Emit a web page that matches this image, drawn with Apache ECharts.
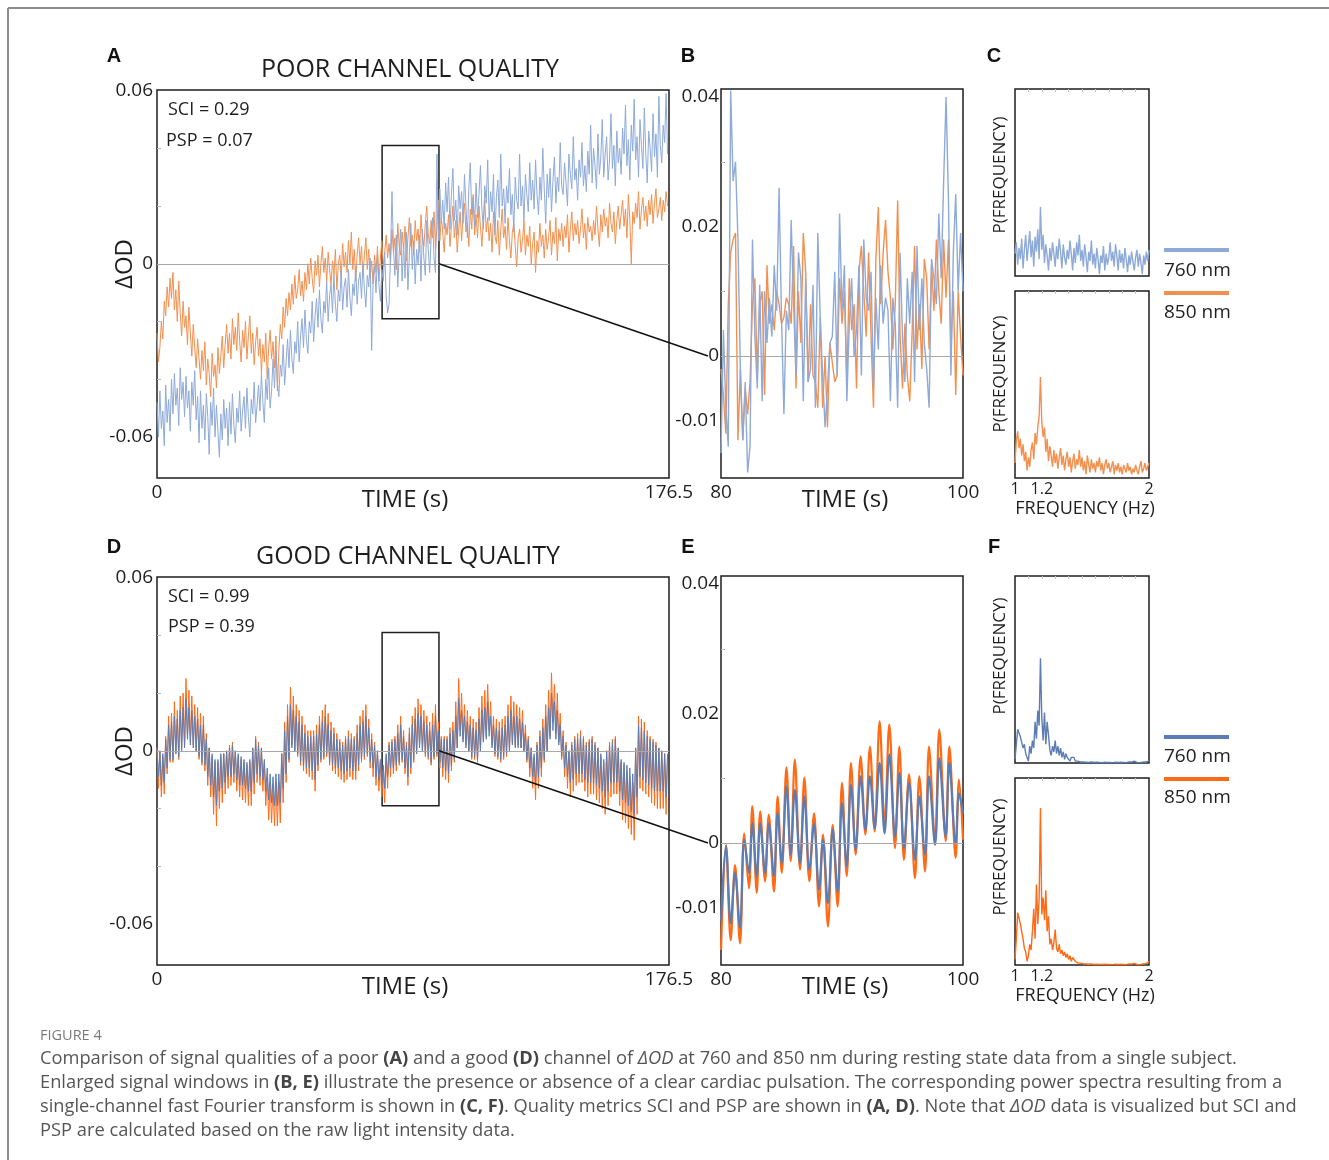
<!DOCTYPE html>
<html>
<head>
<meta charset="UTF-8">
<title>Figure 4 - channel quality</title>
<script src="https://cdn.jsdelivr.net/npm/echarts/dist/echarts.min.js"></script>
<style>
    html, body, #main {
        height: 100%;
        width: 100%;
        margin: 0;
        padding: 0;
        background: #fff;
    }
</style>
</head>
<body>
<div id="main"></div>
<script>
// ---------- data (delta OD in units of 0.001) ----------
// panel A, poor channel, one sample per 0.5 s, 0..176 s (10 values = 5 s per row)
var poor760 = [
    -48, -60, -44, -57, -51, -63, -42, -55, -47, -58,
    -40, -52, -38, -49, -43, -56, -36, -47, -41, -53,
    -39, -50, -44, -58, -41, -49, -37, -54, -46, -62,
    -44, -57, -49, -61, -45, -53, -66, -48, -56, -43,
    -60, -49, -58, -67, -52, -61, -47, -57, -50, -63,
    -48, -59, -45, -56, -62, -50, -55, -44, -58, -51,
    -46, -57, -43, -53, -60, -47, -52, -41, -55, -49,
    -42, -51, -38, -48, -55, -40, -47, -36, -50, -44,
    -33, -43, -30, -41, -46, -35, -39, -28, -42, -34,
    -26, -36, -23, -33, -38, -27, -31, -20, -34, -25,
    -19, -29, -16, -26, -31, -20, -24, -13, -27, -18,
    -12, -22, -9, -19, -24, -13, -17, -6, -20, -11,
    -7, -17, -4, -14, -20, -9, -13, -2, -16, -8,
    -5, -15, -2, -12, -18, -7, -11, -1, -14, -6,
    -3, -12, 0, -9, -15, -4, -8, 2, -30, -5,
    -1, -10, 3, -7, -13, -2, -6, 4, -11, -17,
    -14, 3, 25, 6, -4, 10, -8, 4, 12, -6,
    7, -5, 11, -9, 3, 14, -2, 8, -7, 5,
    0, 10, -6, 12, 2, -4, 15, 5, -3, 9,
    16, 2, -3, 38, 8, 26, 14, 22, 12, 28,
    18, 30, 12, 24, 33, 15, 22, 10, 27, 19,
    25, 14, 31, 20, 9, 26, 35, 17, 23, 13,
    28, 16, 24, 34, 19, 12, 27, 21, 36, 15,
    25, 18, 31, 10, 23, 29, 16, 38, 20, 26,
    14, 27, 21, 33, 17, 24, 11, 30, 22, 19,
    38, 20, 27, 15, 31, 24, 18, 35, 22, 29,
    19, 36, 24, 17, 30, 22, 40, 26, 14, 31,
    23, 33, 18, 29, 37, 21, 30, 25, 42, 27,
    24, 35, 28, 20, 38, 31, 26, 44, 29, 33,
    22, 36, 30, 42, 27, 34, 25, 39, 31, 48,
    28, 40, 34, 26, 45, 31, 37, 50, 30, 38,
    44, 29, 36, 52, 33, 41, 27, 46, 35, 40,
    31, 47, 38, 55, 34, 43, 29, 48, 39, 57,
    36, 44, 30, 50, 41, 33, 54, 38, 28, 46,
    40, 32, 52, 37, 45, 30, 58, 41, 35, 48,
    42, 59, 38
];
var poor850 = [
    -24, -34, -29, -20, -26, -13, -18, -8, -15, -5,
    -12, -3, -16, -9, -20, -6, -17, -25, -13, -22,
    -18, -28, -15, -24, -32, -21, -29, -36, -26, -33,
    -40, -30, -37, -27, -42, -33, -38, -46, -31, -39,
    -35, -43, -29, -38, -32, -25, -36, -28, -21, -31,
    -24, -33, -19, -28, -22, -30, -17, -27, -34, -23,
    -29, -20, -33, -25, -18, -31, -24, -35, -27, -22,
    -32, -26, -38, -28, -34, -24, -40, -29, -23, -33,
    -27, -36, -25, -44, -30, -21, -26, -15, -22, -12,
    -18, -10, -16, -7, -14, -4, -12, -9, -2, -11,
    -6, -13, -3, -9, 0, -7, 2, -5, -10, 1,
    -4, 3, -8, 0, 6, -3, 2, -6, 4, -2,
    -7, 1, -4, 5, -9, 0, 3, -5, 7, -1,
    4, -3, 8, 0, 11, -2, 5, -6, 3, 9,
    0, 6, -4, 3, 9, -2, 5, -5, 1, -7,
    3, -3, 6, -6, 2, 8, -1, 4, 10, 2,
    7, 0, 12, 4, 9, -2, 14, 6, 3, 11,
    5, 13, 1, 9, 16, 6, 10, 3, 15, 8,
    12, 4, 17, 9, 6, 14, 20, 10, 7, 15,
    9, 18, 5, 13, 22, 8, 16, 11, 4, 14,
    10, 17, 6, 13, 20, 9, 15, 4, 12, 18,
    8, 16, 21, 11, 14, 6, 19, 12, 24, 10,
    17, 9, 20, 13, 6, 15, 22, 11, 16, 8,
    14, 4, 18, 10, 7, 15, 3, 12, 19, 9,
    13, 5, 16, 8, 2, 11, 14, 6, -1, 9,
    12, 4, 8, 15, 3, 10, 6, 13, 0, 7,
    11, -3, 8, 4, 14, 6, 10, 2, 12, 5,
    9, 15, 3, 11, 7, 16, 1, 12, 8, 14,
    6, 13, 9, 17, 4, 12, 18, 8, 14, 10,
    15, 7, 12, 19, 9, 14, 5, 16, 11, 13,
    8, 15, 10, 20, 12, 6, 17, 11, 19, 13,
    16, 9, 21, 14, 11, 18, 7, 15, 20, 12,
    17, 22, 13, 19, 9, 24, 15, 0, 18, 14,
    21, 16, 25, 12, 19, 23, 15, 20, 13, 22,
    17, 24, 14, 21, 26, 16, 19, 23, 15, 22,
    18, 25, 20
];

// panel B, poor channel window 80..100 s, one sample per 0.2 s
var zoomPoor760 = [
    -15, 4, -8, -14, 41, 27, 30, 18, -2, -13,
    -4, -18, -14, 18, 3, -5, 11, -7, 10, 2,
    9, 3, 14, 7, 26, 6, -9, 7, 4, 21,
    8, -3, 16, 12, -7, 12, -4, -2, 11, -8,
    19, 6, -3, -11, -5, 2, 3, 13, -3, 22,
    7, 14, -7, 5, 12, 0, 4, 14, -3, 18,
    9, 7, 13, -5, 9, 1, 14, 5, 9, 7,
    -7, 9, 5, -8, 16, 3, -4, 12, 5, 13,
    -4, 17, 4, 12, 2, -2, -8, 15, 12, 8,
    22, 12, 27, 40, 24, -3, 16, 25, 10, 19, 10
];
var zoomPoor850 = [
    -2, -6, -12, 8, 16, 18, 19, -13, -2, -13,
    -5, -9, -4, 8, 12, -3, 8, 10, -6, 14,
    5, 8, 4, 10, 8, 5, 6, 9, 8, 5,
    17, -5, 10, 2, 19, 13, -4, 8, -3, -4,
    -8, 6, -8, 0, -11, 2, -1, -4, -3, 12,
    5, 10, -4, 12, 4, 8, -5, 13, 17, 10,
    3, 16, 3, -8, 15, 23, 8, 16, 21, 13,
    9, 1, 8, 24, 3, -5, 5, -3, -7, 4,
    17, 1, 8, -2, 15, 12, 1, 14, 7, 18,
    10, 5, 18, 9, 18, 1, 10, -6, 10, 3, -3
];

// panel C, power spectra of the poor channel, 1..2 Hz in 0.01 Hz steps (arbitrary units)
var specPoor760 = [
    12, 18, 6, 15, 9, 20, 4, 14, 22, 8,
    16, 24, 10, 19, 5, 21, 13, 25, 9, 37,
    14, 22, 7, 17, 11, 3, 15, 8, 18, 12,
    5, 16, 9, 20, 13, 4, 17, 10, 6, 14,
    9, 19, 12, 3, 15, 7, 18, 11, 22, 8,
    14, 5, 17, 10, 2, 13, 8, 19, 6, 12,
    4, 15, 9, 1, 11, 7, 16, 3, 12, 6,
    10, 18, 8, 13, 5, 17, 11, 3, 14, 7,
    12, 4, 15, 9, 2, 11, 6, 13, 8, 3,
    10, 14, 5, 12, 7, 1, 11, 6, 13, 8,
    14
];
var specPoor850 = [
    8, 20, 25, 16, 21, 12, 18, 9, 14, 4,
    11, 6, 15, 19, 10, 24, 18, 27, 33, 54,
    30, 22, 27, 14, 21, 9, 17, 12, 6, 15,
    8, 13, 5, 11, 16, 7, 12, 4, 10, 14,
    6, 11, 3, 9, 13, 5, 10, 7, 15, 6,
    11, 4, 9, 2, 12, 7, 3, 10, 5, 8,
    3, 9, 6, 11, 4, 8, 2, 7, 10, 5,
    8, 3, 6, 9, 2, 7, 4, 8, 3, 6,
    2, 7, 5, 3, 8, 4, 6, 2, 5, 3,
    7, 4, 2, 6, 9, 3, 5, 8, 4, 6,
    8
];

// panel D, good channel, one sample per 0.5 s, 0..176 s
var good760 = [
    1, -9, 0, -12, -1, -11, 4, -6, 9, -3,
    10, -3, 12, -1, 11, -2, 14, 0, 15, 1,
    18, 4, 15, 2, 14, 1, 12, 0, 11, -2,
    9, -4, 9, -5, 4, -9, 1, -12, -1, -16,
    -3, -19, -3, -14, -1, -13, -1, -11, 0, -9,
    1, -9, 2, -8, 0, -10, -1, -12, -2, -12,
    -3, -13, -4, -14, -3, -14, 1, -11, 4, -8,
    2, -9, 1, -10, -3, -14, -6, -17, -8, -18,
    -9, -19, -8, -19, -8, -18, -1, -13, 7, -8,
    12, -3, 16, 1, 14, 0, 12, -1, 10, -4,
    9, -5, 6, -6, 5, -6, 5, -7, 5, -10,
    6, -5, 9, -3, 10, -2, 12, -1, 9, -4,
    7, -5, 6, -6, 4, -6, 3, -7, 2, -8,
    4, -7, 5, -6, 4, -7, 4, -7, 6, -5,
    9, -3, 10, -2, 12, -1, 8, -4, 4, -6,
    2, -9, 0, -10, -3, -12, -5, -13, -1, -9,
    2, -6, 3, -6, 4, -5, 6, -4, 9, -3,
    5, -6, 2, -9, 6, -6, 9, -3, 11, -1,
    13, 1, 12, 0, 10, -1, 9, -2, 7, -4,
    9, -2, 12, -1, 7, -4, 4, -6, 4, -7,
    4, -8, 6, -5, 7, -3, 12, 1, 18, 5,
    14, 3, 12, 1, 10, 0, 9, -2, 8, -2,
    7, -3, 11, 0, 14, 3, 15, 4, 17, 5,
    12, 1, 9, -1, 8, -2, 7, -3, 8, -2,
    9, -1, 12, 0, 14, 2, 12, 1, 12, 1,
    11, 1, 10, 0, 6, -3, 4, -6, 1, -9,
    -1, -12, 2, -9, 5, -6, 8, -3, 12, 0,
    15, 4, 20, 7, 17, 4, 14, 2, 9, -2,
    5, -6, 2, -9, 0, -11, 2, -10, 4, -8,
    4, -8, 5, -8, 4, -10, 2, -11, 3, -11,
    4, -11, 2, -12, 1, -13, -1, -14, -3, -16,
    0, -14, 2, -11, 3, -11, 4, -11, 1, -14,
    -3, -17, -4, -18, -5, -19, -6, -21, -8, -22,
    1, -16, 9, -9, 8, -10, 7, -11, 5, -12,
    4, -13, 3, -14, 2, -14, 1, -14, 0, -14,
    -1, -16, -1
];
var good850 = [
    1, -13, 0, -16, -2, -15, 5, -8, 12, -4,
    13, -4, 17, -1, 14, -3, 19, 1, 20, 2,
    25, 5, 21, 3, 19, 2, 16, 0, 15, -3,
    13, -5, 12, -7, 6, -12, 1, -16, -2, -22,
    -4, -26, -4, -20, -2, -18, -1, -15, 0, -13,
    2, -12, 3, -11, 0, -14, -2, -16, -3, -17,
    -4, -18, -5, -19, -4, -19, 1, -15, 5, -11,
    3, -12, 1, -14, -4, -19, -9, -24, -11, -25,
    -12, -26, -11, -26, -11, -25, -1, -18, 10, -11,
    16, -4, 22, 2, 19, 0, 16, -2, 14, -5,
    12, -7, 9, -8, 7, -9, 7, -10, 7, -14,
    9, -7, 12, -4, 14, -3, 16, -2, 13, -5,
    10, -7, 8, -8, 6, -9, 4, -10, 3, -11,
    5, -10, 7, -9, 6, -10, 5, -10, 9, -7,
    12, -4, 14, -3, 16, -2, 11, -6, 6, -9,
    3, -12, 0, -14, -4, -16, -7, -18, -2, -13,
    3, -9, 4, -8, 5, -7, 9, -5, 12, -4,
    7, -8, 3, -12, 8, -8, 12, -4, 15, -1,
    18, 2, 16, 0, 14, -2, 12, -3, 10, -5,
    13, -3, 16, -2, 10, -6, 5, -9, 5, -10,
    5, -11, 8, -7, 10, -4, 17, 1, 25, 7,
    20, 4, 16, 2, 14, 0, 12, -3, 11, -3,
    10, -4, 15, 0, 19, 4, 21, 5, 23, 7,
    17, 2, 12, -2, 11, -3, 10, -4, 11, -3,
    12, -2, 16, 0, 19, 3, 17, 2, 16, 2,
    15, 1, 14, 0, 9, -4, 5, -9, 1, -13,
    -2, -17, 3, -13, 7, -9, 11, -4, 16, 0,
    21, 5, 27, 10, 23, 6, 20, 3, 13, -3,
    7, -9, 3, -13, 0, -16, 3, -14, 5, -12,
    6, -11, 7, -11, 5, -14, 3, -16, 4, -15,
    5, -15, 3, -17, 1, -18, -2, -20, -4, -22,
    0, -19, 3, -16, 4, -15, 5, -15, 1, -19,
    -4, -24, -5, -25, -7, -27, -9, -29, -11, -31,
    1, -22, 12, -13, 11, -14, 10, -15, 7, -16,
    5, -18, 4, -19, 3, -20, 1, -20, 0, -20,
    -1, -22, -2
];

// panel E, good channel window: peaks and troughs of the cardiac wave
var zoomGoodTime = [
    80.0, 80.41, 80.80, 81.16, 81.57, 81.92, 82.31, 82.59, 82.95, 83.24,
    83.64, 83.95, 84.38, 84.68, 85.02, 85.41, 85.76, 86.10, 86.53, 86.89,
    87.30, 87.69, 88.10, 88.43, 88.84, 89.23, 89.64, 90.00, 90.39, 90.74,
    91.13, 91.54, 91.93, 92.31, 92.70, 93.11, 93.52, 93.91, 94.38, 94.74,
    95.12, 95.54, 96.03, 96.39, 96.86, 97.19, 97.69, 98.04, 98.57, 98.87,
    99.39, 99.67, 100.0
];
var zoomGood760 = [
    -12, -0.5, -12.4, -4.6, -13.1, 0.5, -4.6, 3, -5.1, 3,
    -4.6, 3, -5.1, 4.6, -3.1, 8.8, -1.8, 8.2, -3.1, 7.2,
    -4.1, 3, -7.2, 0.5, -9.3, 2.1, -7.5, 6.2, -3.6, 9.0,
    -1, 10.3, 2.1, 10.3, 2.3, 12.4, 1.5, 13.7, 1, 10.8,
    -0.8, 9.3, -2.6, 7.2, -1.8, 10.3, -0.3, 13.1, 1, 12.4,
    0, 7.7, 4.6
];
var zoomGood850 = [
    -16.5, -0.3, -15, -3.4, -15.5, 1.5, -7, 5.7, -7.7, 4.9,
    -5.9, 4.4, -7.5, 7.2, -4.6, 11.7, -2.8, 12.9, -4.1, 10.1,
    -5.9, 4.6, -9.8, 1.3, -12.9, 2.8, -9.8, 9.3, -5.1, 12.4,
    -1.8, 13.4, 1.3, 14.9, 1.8, 18.8, 2.8, 18.3, -0.8, 14.9,
    -2.6, 10.6, -5.4, 10.3, -4.4, 14.9, 0.3, 17.5, 0.3, 14.9,
    -2.3, 9.8, 0.5
];

// panel F, power spectra of the good channel, 1..2 Hz in 0.01 Hz steps
var specGood760 = [
    2, 10, 18, 17, 14, 11, 8, 10, 5, 4,
    1, 9, 5, 12, 8, 22, 13, 28, 20, 56,
    24, 12, 27, 10, 22, 15, 7, 4, 9, 6,
    12, 5, 9, 4, 8, 3, 6, 2, 5, 3,
    4, 1, 3, 2, 3, 1, 2, 1, 2, 0.5,
    1, 0.5, 1.2, 0.4, 0.8, 0.3, 1, 0.5, 0.7, 0.3,
    0.8, 0.4, 1.1, 0.3, 0.6, 0.2, 0.9, 0.4, 0.5, 0.3,
    0.7, 0.3, 0.5, 0.2, 0.8, 0.4, 0.6, 0.3, 1.2, 0.4,
    0.5, 0.3, 0.7, 0.2, 0.4, 0.6, 0.3, 0.5, 0.2, 1,
    0.4, 0.3, 0.6, 0.2, 0.8, 0.4, 1.1, 0.5, 1.4, 0.8,
    1.5
];
var specGood850 = [
    3, 14, 28, 25, 22, 18, 14, 9, 7, 2,
    5, 11, 8, 18, 30, 14, 43, 22, 35, 84,
    27, 36, 24, 40, 18, 26, 11, 14, 8, 12,
    19, 9, 7, 11, 6, 8, 5, 7, 4, 6,
    3, 5, 2, 4, 3, 2, 3, 1, 2, 1,
    1, 0.6, 1.2, 0.5, 0.8, 0.4, 1, 0.5, 0.7, 0.3,
    0.8, 0.4, 1.1, 0.3, 0.6, 0.3, 0.9, 0.4, 0.6, 0.3,
    0.7, 0.3, 0.5, 0.2, 0.8, 0.4, 0.6, 0.3, 1, 0.4,
    0.5, 0.3, 0.7, 0.2, 0.4, 0.6, 0.3, 0.5, 0.2, 0.9,
    0.4, 0.3, 0.6, 0.2, 0.8, 0.5, 1.2, 0.6, 1.5, 1.2,
    2
];

// axis ticks / labels
var timeTicksFull = [0, 176.5];
var timeTicksZoom = [80, 100];
var freqTicks = [1, 1.2, 2];
var freqTopTicks = [1.1, 1.2, 1.3, 1.4, 1.5, 1.6, 1.7, 1.8, 1.9];
var odTicksFull = [-0.06, 0, 0.06];
var odMinorFull = [-0.04, -0.02, 0.02, 0.04];
var odTicksZoom = [-0.01, 0, 0.02, 0.04];
var odMinorZoom = [0.01, 0.03];
var zoomWindow = [77.6, 97.2, 0.041, -0.019];   // box drawn in A and D

// sampling grids
var fullStart = 0, fullStep = 0.5;
var zoomStart = 80, zoomStep = 0.2;
var freqStart = 1, freqStep = 0.01;
var mOD = 0.001;

// ---------- helpers ----------
var FONT = '"Open Sans", "DejaVu Sans", sans-serif';
var INK = '#1e1e1e';
var poorBlue = '#8eaad9', poorOrange = '#f3904f';
var goodBlue = '#5b7db4', goodOrange = '#ff6a17';

function sampled(values, start, step, scale) {
    return values.map(function (v, i) {
        return [+(start + i * step).toFixed(4), v * scale];
    });
}
function paired(times, values, scale) {
    return values.map(function (v, i) { return [times[i], v * scale]; });
}
function odLabel(v) { return v === 0 ? '0' : v.toFixed(2); }

var grids = [
    {left: 157, top: 90, width: 512, height: 388},   // A
    {left: 721, top: 89, width: 242, height: 389},   // B
    {left: 1015, top: 89, width: 134, height: 187},  // C top
    {left: 1015, top: 291, width: 134, height: 187}, // C bottom
    {left: 157, top: 577, width: 512, height: 388},  // D
    {left: 721, top: 576, width: 242, height: 389},  // E
    {left: 1015, top: 576, width: 134, height: 187}, // F top
    {left: 1015, top: 778, width: 134, height: 187}  // F bottom
].map(function (g) {
    g.show = true;
    g.borderColor = INK;
    g.borderWidth = 1.5;
    return g;
});

function timeAxis(gi, min, max, ticks, namePad) {
    return {
        type: 'value', gridIndex: gi, min: min, max: max,
        axisLine: {show: false}, axisTick: {show: false}, splitLine: {show: false},
        axisLabel: {customValues: ticks, formatter: function (v) { return String(v); },
            fontSize: 19, color: INK, fontFamily: FONT, margin: 5},
        name: 'TIME (s)', nameLocation: 'middle', nameGap: 10, nameMoveOverlap: false,
        nameTextStyle: {fontSize: 24, color: INK, fontFamily: FONT, padding: namePad}
    };
}
function freqAxis(gi, showLabels) {
    return {
        type: 'value', gridIndex: gi, min: 1, max: 2,
        axisLine: {show: false}, axisTick: {show: false}, splitLine: {show: false},
        axisLabel: {show: showLabels, customValues: freqTicks, formatter: function (v) { return String(v); },
            fontSize: 16, color: INK, fontFamily: FONT, margin: 3},
        name: showLabels ? 'FREQUENCY (Hz)' : '', nameLocation: 'middle', nameGap: 22, nameMoveOverlap: false,
        nameTextStyle: {fontSize: 18, color: INK, fontFamily: FONT, padding: [0, 0, 0, 6]}
    };
}
// faint tick marks along the top edge of the spectrum boxes
function freqTopAxis(gi) {
    return {
        type: 'value', gridIndex: gi, position: 'top', min: 1, max: 2,
        axisLine: {show: false}, splitLine: {show: false}, axisLabel: {show: false},
        axisTick: {show: true, inside: true, length: 3, customValues: freqTopTicks,
            lineStyle: {color: '#c4c4c4', width: 1}}
    };
}
function odAxis(gi, min, max, ticks, minor, margin) {
    return {
        type: 'value', gridIndex: gi, min: min, max: max,
        axisLine: {show: false}, splitLine: {show: false},
        axisTick: {show: true, inside: true, length: 4, customValues: minor,
            lineStyle: {color: '#b5b5b5', width: 1}},
        axisLabel: {customValues: ticks, formatter: odLabel, fontSize: 19, color: INK,
            fontFamily: FONT, margin: margin}
    };
}
function powerAxis(gi) {
    return {
        type: 'value', gridIndex: gi, min: 0, max: 100,
        axisLine: {show: false}, axisTick: {show: false}, splitLine: {show: false},
        axisLabel: {show: false}
    };
}
function line(name, gi, data, color, width, extra) {
    var s = {
        name: name, type: 'line', xAxisIndex: gi, yAxisIndex: gi, data: data,
        showSymbol: false, symbol: 'none', silent: true,
        lineStyle: {color: color, width: width}, itemStyle: {color: color}
    };
    for (var k in extra) s[k] = extra[k];
    return s;
}
var zeroLine = {
    silent: true, symbol: ['none', 'none'], label: {show: false},
    lineStyle: {color: '#a8a8a8', width: 1, type: 'solid'},
    data: [{yAxis: 0}]
};
var windowBox = {
    silent: true,
    itemStyle: {color: 'rgba(0,0,0,0)', borderColor: INK, borderWidth: 1.5},
    data: [[{coord: [zoomWindow[0], zoomWindow[2]]}, {coord: [zoomWindow[1], zoomWindow[3]]}]]
};

var fullMin = -0.0742, fullMax = 0.0602, zMin = -0.01884, zMax = 0.04124;

var option = {
    animation: false,
    backgroundColor: '#fff',
    grid: grids,
    xAxis: [
        timeAxis(0, 0, 176.5, timeTicksFull, [0, 16, 0, 0]),
        timeAxis(1, 80, 100, timeTicksZoom, [0, 0, 0, 6]),
        freqAxis(2, false),
        freqAxis(3, true),
        timeAxis(4, 0, 176.5, timeTicksFull, [0, 16, 0, 0]),
        timeAxis(5, 80, 100, timeTicksZoom, [0, 0, 0, 6]),
        freqAxis(6, false),
        freqAxis(7, true),
        freqTopAxis(2), freqTopAxis(3), freqTopAxis(6), freqTopAxis(7)
    ],
    yAxis: [
        odAxis(0, fullMin, fullMax, odTicksFull, odMinorFull, 4),
        odAxis(1, zMin, zMax, odTicksZoom, odMinorZoom, 2),
        powerAxis(2),
        powerAxis(3),
        odAxis(4, fullMin, fullMax, odTicksFull, odMinorFull, 4),
        odAxis(5, zMin, zMax, odTicksZoom, odMinorZoom, 2),
        powerAxis(6),
        powerAxis(7)
    ],
    series: [
        line('850 nm', 0, sampled(poor850, fullStart, fullStep, mOD), poorOrange, 1, {markLine: zeroLine, markArea: windowBox}),
        line('760 nm', 0, sampled(poor760, fullStart, fullStep, mOD), poorBlue, 1),
        line('850 nm', 1, sampled(zoomPoor850, zoomStart, zoomStep, mOD), poorOrange, 1.4, {markLine: zeroLine}),
        line('760 nm', 1, sampled(zoomPoor760, zoomStart, zoomStep, mOD), poorBlue, 1.4),
        line('760 nm', 2, sampled(specPoor760, freqStart, freqStep, 1), poorBlue, 1.4),
        line('850 nm', 3, sampled(specPoor850, freqStart, freqStep, 1), poorOrange, 1.4),
        line('850 nm', 4, sampled(good850, fullStart, fullStep, mOD), goodOrange, 1, {markLine: zeroLine, markArea: windowBox}),
        line('760 nm', 4, sampled(good760, fullStart, fullStep, mOD), goodBlue, 1),
        line('850 nm', 5, paired(zoomGoodTime, zoomGood850, mOD), goodOrange, 2.2, {smooth: 0.35, markLine: zeroLine}),
        line('760 nm', 5, paired(zoomGoodTime, zoomGood760, mOD), goodBlue, 2.2, {smooth: 0.35}),
        line('760 nm', 6, sampled(specGood760, freqStart, freqStep, 1), goodBlue, 1.4),
        line('850 nm', 7, sampled(specGood850, freqStart, freqStep, 1), goodOrange, 1.4)
    ]
};

var mycharts = echarts.init(document.getElementById('main'), null, {renderer: 'canvas'});
mycharts.setOption(option);

// ---------- annotations ----------
function txt(x, y, s, size, extra) {
    var st = {text: s, fontSize: size, fontFamily: FONT, fill: INK, align: 'left', verticalAlign: 'middle'};
    for (var k in extra) st[k] = extra[k];
    return {type: 'text', x: x, y: y, style: st, z: 100};
}
function rotTxt(x, y, s, size) {
    var t = txt(x, y, s, size, {align: 'center'});
    t.rotation = Math.PI / 2;
    return t;
}
function letter(x, y, s) {
    return txt(x, y, s, 20, {fontFamily: '"Liberation Sans", Arial, sans-serif', fontWeight: 'bold', align: 'center', fill: '#111'});
}
function hline(x1, y1, x2, y2, color, w) {
    return {type: 'line', shape: {x1: x1, y1: y1, x2: x2, y2: y2}, style: {stroke: color, lineWidth: w}, z: 100};
}

// connector from the window box to the enlarged panel
var aEnd = mycharts.convertToPixel({gridIndex: 0}, [zoomWindow[1], 0]);
var bStart = mycharts.convertToPixel({gridIndex: 1}, [80, 0]);
var dEnd = mycharts.convertToPixel({gridIndex: 4}, [zoomWindow[1], 0]);
var eStart = mycharts.convertToPixel({gridIndex: 5}, [80, 0]);

var CAP = 18.3;
var capN = {fontSize: CAP, fontFamily: FONT, fill: '#555'};
var capB = {fontSize: CAP, fontFamily: FONT, fill: '#444', fontWeight: 'bold'};
var capI = {fontSize: CAP, fontFamily: FONT, fill: '#555', fontStyle: 'italic'};
function caption(y, s) {
    return {type: 'text', x: 40, y: y, z: 100,
        style: {text: s, rich: {n: capN, b: capB, i: capI}, verticalAlign: 'middle', align: 'left'}};
}

var elements = [
    // figure frame
    hline(8, 8, 1329, 8, '#8c8c8c', 2),
    hline(8, 8, 8, 1160, '#8c8c8c', 2),

    letter(114, 56, 'A'), letter(688, 56, 'B'), letter(994, 56, 'C'),
    letter(114, 547, 'D'), letter(688, 547, 'E'), letter(994, 547, 'F'),

    txt(410, 70, 'POOR CHANNEL QUALITY', 25, {align: 'center'}),
    txt(408, 557, 'GOOD CHANNEL QUALITY', 25, {align: 'center'}),

    txt(168, 110, 'SCI = 0.29', 18), txt(166, 141, 'PSP = 0.07', 18),
    txt(168, 597, 'SCI = 0.99', 18), txt(168, 627, 'PSP = 0.39', 18),

    rotTxt(125, 264, 'ΔOD', 24), rotTxt(125, 751, 'ΔOD', 24),
    rotTxt(1000, 175, 'P(FREQUENCY)', 17), rotTxt(1000, 374, 'P(FREQUENCY)', 17),
    rotTxt(1000, 656, 'P(FREQUENCY)', 17), rotTxt(1000, 857, 'P(FREQUENCY)', 17),

    // legends
    hline(1164, 250, 1229, 250, poorBlue, 4), txt(1164, 271, '760 nm', 19),
    hline(1164, 293, 1229, 293, poorOrange, 4), txt(1164, 313, '850 nm', 19),
    hline(1164, 737, 1229, 737, goodBlue, 4), txt(1164, 757, '760 nm', 19),
    hline(1164, 779, 1229, 779, goodOrange, 4), txt(1164, 798, '850 nm', 19),

    // zoom connectors
    hline(aEnd[0], aEnd[1], bStart[0] - 13, bStart[1], '#111', 1.5),
    hline(dEnd[0], dEnd[1], eStart[0] - 13, eStart[1], '#111', 1.5),

    // caption
    txt(40, 1036, 'FIGURE 4', 14.5, {fill: '#7a7a7a'}),
    caption(1059, '{n|Comparison of signal qualities of a poor }{b|(A)}{n| and a good }{b|(D)}{n| channel of }{i|ΔOD}{n| at 760 and 850 nm during resting state data from a single subject.}'),
    caption(1083, '{n|Enlarged signal windows in }{b|(B, E)}{n| illustrate the presence or absence of a clear cardiac pulsation. The corresponding power spectra resulting from a}'),
    caption(1107, '{n|single-channel fast Fourier transform is shown in }{b|(C, F)}{n|. Quality metrics SCI and PSP are shown in }{b|(A, D)}{n|. Note that }{i|ΔOD}{n| data is visualized but SCI and}'),
    caption(1131, '{n|PSP are calculated based on the raw light intensity data.}')
];

mycharts.setOption({graphic: {elements: elements}});
</script>
</body>
</html>
